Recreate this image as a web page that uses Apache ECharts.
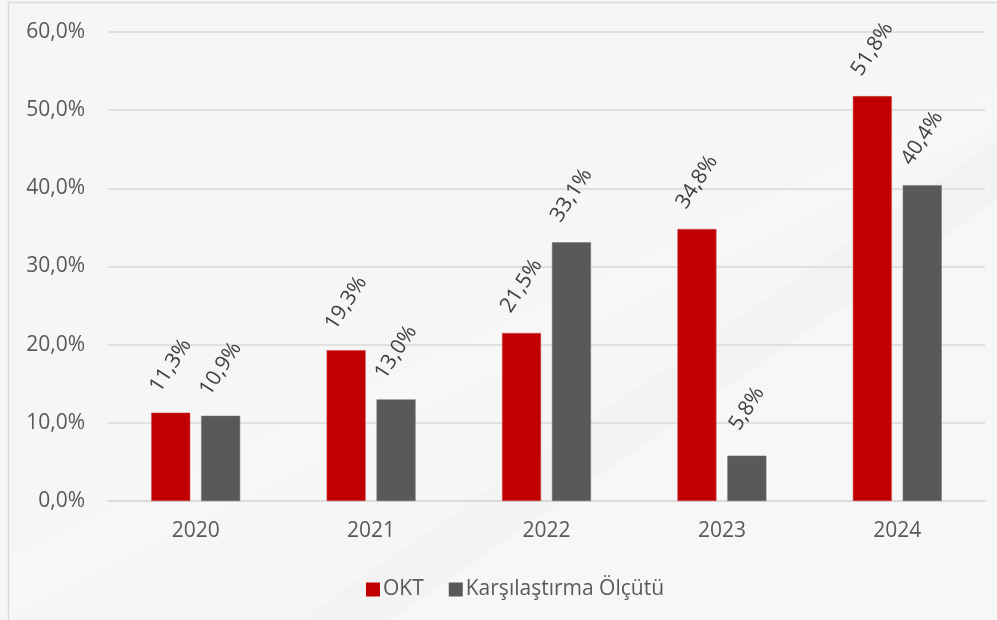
<!DOCTYPE html>
<html lang="tr">
<head>
  <meta charset="UTF-8">
  <title>OKT vs Karşılaştırma Ölçütü</title>
  <script src="https://cdn.jsdelivr.net/npm/echarts@6/dist/echarts.min.js"></script>
  <style>
    html, body { margin: 0; padding: 0; background: #f6f6f7; }
    #chart { width: 997px; height: 620px; }
  </style>
</head>
<body>
<div id="chart"></div>
<script>
  const years = ['2020', '2021', '2022', '2023', '2024'];
  const oktValues = [11.3, 19.3, 21.5, 34.8, 51.8];
  const benchValues = [10.9, 13.0, 33.1, 5.8, 40.4];
  const seriesNames = ['OKT', 'Karşılaştırma Ölçütü'];

  function pct(v) {
    return v.toFixed(1).replace('.', ',') + '%';
  }

  const chart = echarts.init(document.getElementById('chart'));
  const font = "'Open Sans', 'Noto Sans', sans-serif";

  const valueLabel = {
    show: true,
    position: 'top',
    distance: 47,
    rotate: 57,
    align: 'center',
    verticalAlign: 'middle',
    fontSize: 21,
    fontFamily: font,
    color: '#404040',
    formatter: p => pct(p.value)
  };

  chart.setOption({
    backgroundColor: '#f6f6f7',
    animation: false,
    graphic: [
      // subtle diagonal shading of the slide background
      { type: 'polygon', silent: true, z: -10,
        shape: { points: [[300, 620], [997, 140], [997, 620]] },
        style: { fill: '#f3f3f4' } },
      { type: 'polygon', silent: true, z: -9,
        shape: { points: [[390, 620], [997, 200], [997, 620]] },
        style: { fill: '#f7f7f7' } },
      { type: 'polygon', silent: true, z: -9,
        shape: { points: [[0, 560], [997, 90], [997, 125], [0, 620]] },
        style: { fill: '#ffffff', opacity: 0.18 } },
      { type: 'rect', silent: true, z: -5,
        shape: { x: 8.5, y: 2.5, width: 1000, height: 700 },
        style: { fill: 'none', stroke: '#d9d9d9', lineWidth: 1.5 } }
    ],
    grid: { left: 108, right: 12, top: 32, bottom: 119 },
    legend: {
      data: seriesNames,
      left: 361,
      top: 574,
      itemWidth: 14,
      itemHeight: 14,
      itemGap: 25,
      icon: 'rect',
      itemStyle: { borderWidth: 0 },
      textStyle: { fontSize: 21, fontFamily: font, color: '#595959', padding: [0, 0, 0, -2] }
    },
    xAxis: {
      type: 'category',
      data: years,
      axisLine: { lineStyle: { color: '#d9d9d9', width: 1.5 } },
      axisTick: { show: false },
      axisLabel: { fontSize: 21, fontFamily: font, color: '#595959', margin: 20 }
    },
    yAxis: {
      type: 'value',
      min: 0,
      max: 60,
      interval: 10,
      axisLine: { show: false },
      axisTick: { show: false },
      splitLine: { lineStyle: { color: '#d9d9d9', width: 1.5 } },
      axisLabel: { fontSize: 21, fontFamily: font, color: '#595959', margin: 23, formatter: v => pct(v) }
    },
    series: [
      {
        name: seriesNames[0],
        type: 'bar',
        data: oktValues,
        barWidth: 39,
        barGap: '28%',
        itemStyle: { color: '#c00000', borderColor: '#d44a4a', borderWidth: 0.5 },
        label: valueLabel
      },
      {
        name: seriesNames[1],
        type: 'bar',
        data: benchValues,
        barWidth: 39,
        itemStyle: { color: '#595959', borderColor: '#707070', borderWidth: 0.5 },
        label: valueLabel
      }
    ]
  });
</script>
</body>
</html>
